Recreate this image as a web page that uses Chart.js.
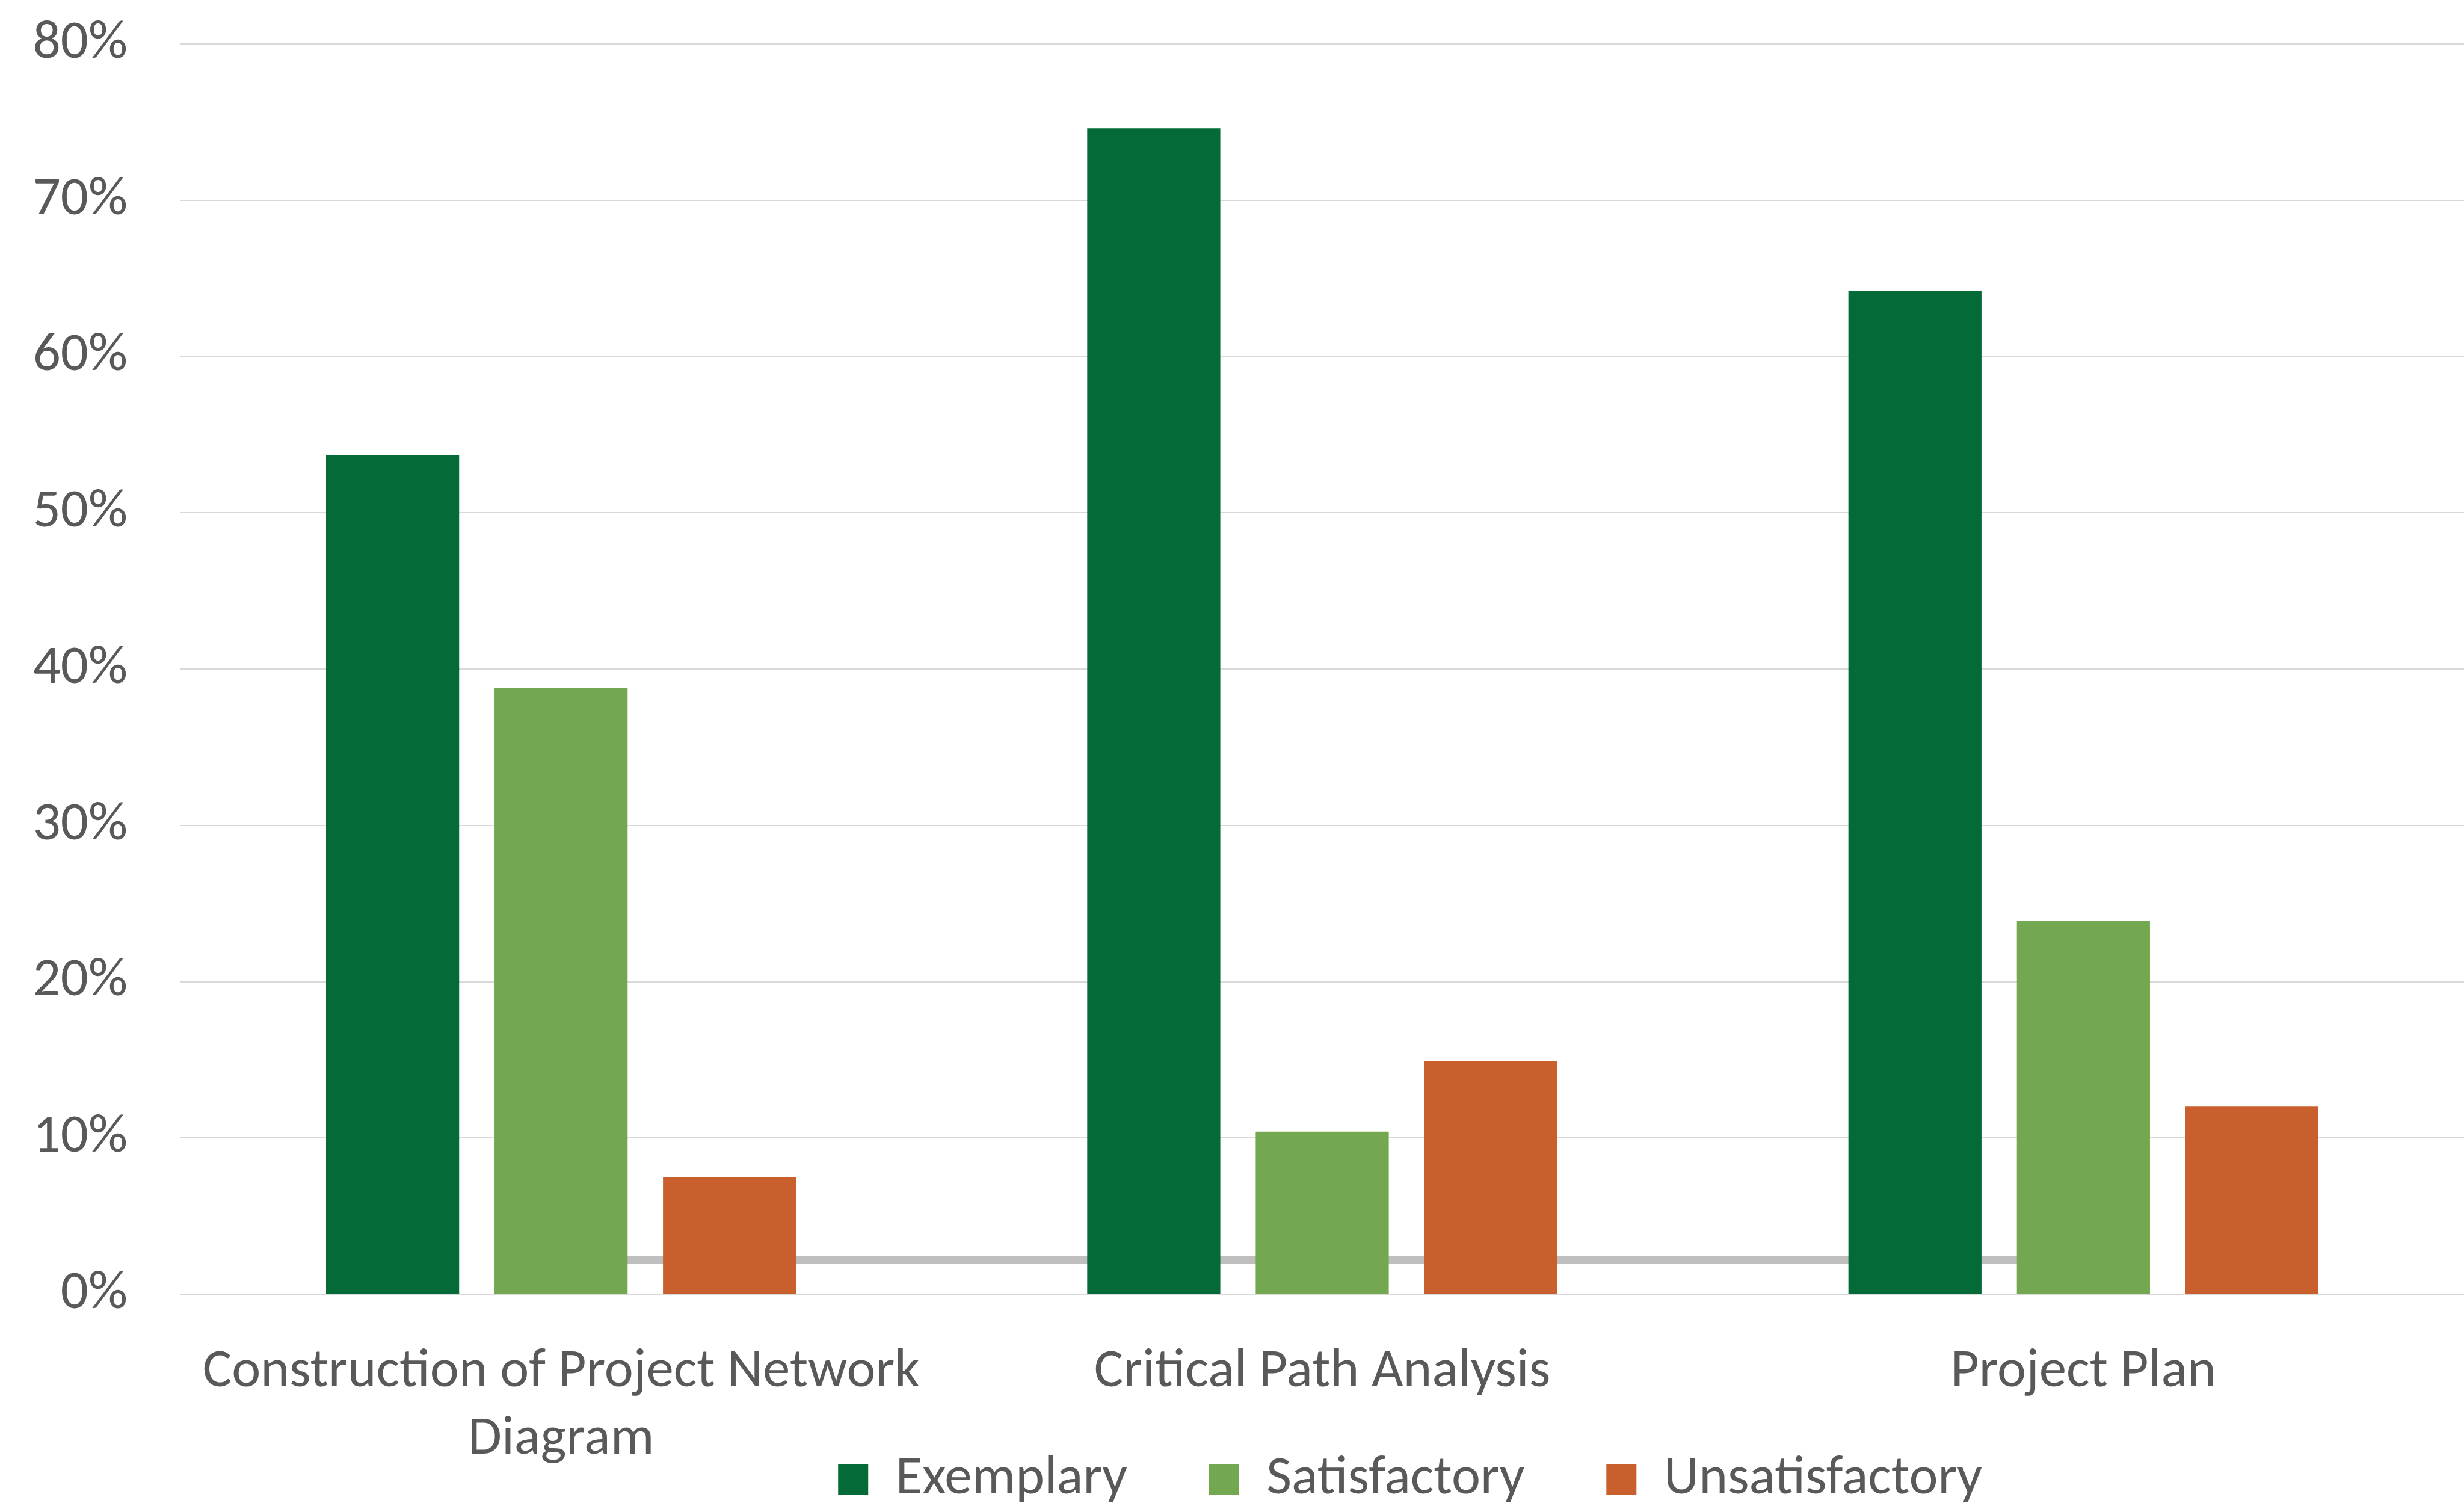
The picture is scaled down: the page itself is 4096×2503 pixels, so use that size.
<!DOCTYPE html>
<html>
<head>
<meta charset="utf-8">
<script src="https://cdn.jsdelivr.net/npm/chart.js@4/dist/chart.umd.min.js"></script>
<style>
  html, body { margin: 0; padding: 0; background: #ffffff; overflow: hidden; }
  #wrap { width: 4096px; height: 2503px; }
</style>
</head>
<body>
<div id="wrap"><canvas id="c" width="4096" height="2503"></canvas></div>
<script>
const categories = [
  ["Construction of Project Network", "Diagram"],
  "Critical Path Analysis",
  "Project Plan"
];
const seriesNames = ["Exemplary", "Satisfactory", "Unsatisfactory"];
const exemplary = [53.7, 74.6, 64.2];
const satisfactory = [38.8, 10.4, 23.9];
const unsatisfactory = [7.5, 14.9, 12.0];
const referenceLine = [2.2, 2.2, 2.2];
const yTicks = [0, 10, 20, 30, 40, 50, 60, 70, 80];

const FONT = "Carlito, 'Liberation Sans Narrow', 'Liberation Sans', sans-serif";
const TEXT = "#595959";

const layoutTweak = {
  id: 'layoutTweak',
  afterLayout(chart) {
    const lg = chart.legend;
    if (lg) {
      const dx = 2344 - (lg.left + lg.right) / 2;
      lg.left += dx; lg.right += dx;
      const h = lg.bottom - lg.top;
      lg.top = 2459 - 181.5;
      lg.bottom = lg.top + h;
    }
    const xs = chart.scales.x;
    if (xs) { xs.bottom = chart.height; }
  }
};

new Chart(document.getElementById('c'), {
  type: 'bar',
  data: {
    labels: categories,
    datasets: [
      { label: seriesNames[0], data: exemplary, backgroundColor: '#036A38', order: 1,
        categoryPercentage: 0.664, barPercentage: 0.79 },
      { label: seriesNames[1], data: satisfactory, backgroundColor: '#73A850', order: 1,
        categoryPercentage: 0.664, barPercentage: 0.79 },
      { label: seriesNames[2], data: unsatisfactory, backgroundColor: '#C85F2C', order: 1,
        categoryPercentage: 0.664, barPercentage: 0.79 },
      { type: 'line', label: 'ref', data: referenceLine, borderColor: '#BFBFBF',
        backgroundColor: '#BFBFBF', borderWidth: 13.5, pointRadius: 0, pointHoverRadius: 0,
        fill: false, order: 10, tension: 0 }
    ]
  },
  options: {
    responsive: false,
    devicePixelRatio: 1,
    animation: false,
    layout: { padding: { top: 73, left: 0, right: 0, bottom: 0 } },
    plugins: {
      title: { display: false },
      tooltip: { enabled: false },
      legend: {
        display: true,
        position: 'bottom',
        align: 'center',
        labels: {
          filter: (item) => item.datasetIndex < 3,
          boxWidth: 50,
          boxHeight: 50,
          padding: 136,
          color: TEXT,
          font: { family: FONT, size: 91 }
        }
      }
    },
    scales: {
      x: {
        offset: true,
        grid: { display: false, drawTicks: false },
        border: { display: false },
        ticks: {
          color: TEXT,
          padding: 74,
          maxRotation: 0,
          minRotation: 0,
          autoSkip: false,
          font: { family: FONT, size: 91, lineHeight: 1.23 }
        },
        afterFit(scale) { scale.height = 115; }
      },
      y: {
        min: 0,
        max: 80,
        afterBuildTicks(scale) { scale.ticks = yTicks.map(v => ({ value: v })); },
        grid: { color: '#D9D9D9', lineWidth: 2, drawTicks: false },
        border: { display: false },
        ticks: {
          color: TEXT,
          padding: 88,
          font: { family: FONT, size: 91 },
          callback: (v) => v + '%'
        },
        afterFit(scale) {
          scale.width = 300;
          scale.paddingTop = 0;
          scale.paddingBottom = 0;
        }
      }
    }
  },
  plugins: [layoutTweak]
});
</script>
</body>
</html>
